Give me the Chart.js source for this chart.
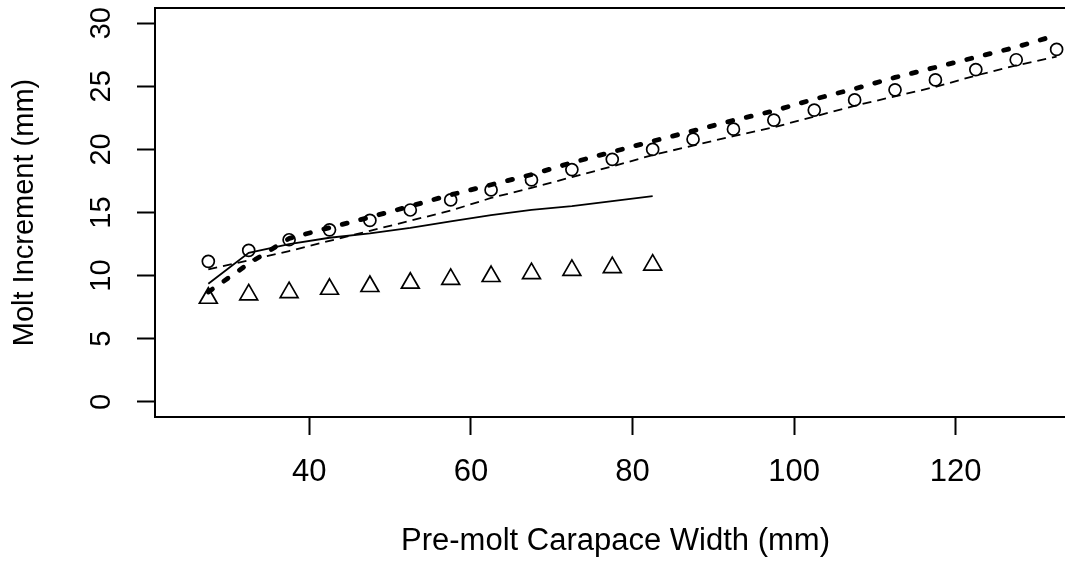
<!DOCTYPE html>
<html><head><meta charset="utf-8">
<script src="https://cdn.jsdelivr.net/npm/chart.js@4.4.1/dist/chart.umd.min.js"></script>
<style>
html,body{margin:0;padding:0;overflow:hidden;background:#fff}
canvas{display:block}
</style>
</head><body><canvas id="c" width="1065" height="562"></canvas>
<script>
// ---- data ----
const widthAll = [27.5,32.5,37.5,42.5,47.5,52.5,57.5,62.5,67.5,72.5,77.5,82.5,87.5,92.5,97.5,102.5,107.5,112.5,117.5,122.5,127.5,132.5];
const widthShort = [27.5,32.5,37.5,42.5,47.5,52.5,57.5,62.5,67.5,72.5,77.5,82.5];
const circlePoints = [11.13,12.0,12.84,13.63,14.37,15.2,16.0,16.79,17.58,18.4,19.21,20.0,20.81,21.6,22.32,23.11,23.92,24.72,25.5,26.32,27.1,27.92];
const trianglePoints = [8.22,8.49,8.67,8.93,9.15,9.41,9.72,9.94,10.17,10.43,10.65,10.85];
const solidCurve = [9.35,11.8,12.5,13.0,13.35,13.78,14.3,14.8,15.2,15.5,15.9,16.3];
const thinDashedCurve = [10.5,11.2,11.95,12.75,13.55,14.35,15.15,16.15,16.95,17.8,18.65,19.55,20.3,21.05,21.75,22.6,23.45,24.2,24.95,25.85,26.65,27.35];
const thickDottedCurve = [8.7,10.95,12.95,13.8,14.63,15.5,16.4,17.2,18.0,18.95,19.8,20.65,21.47,22.3,23.05,23.98,24.8,25.7,26.5,27.3,28.1,29.05];
const xTickValues = [40,60,80,100,120];
const yTickValues = [0,5,10,15,20,25,30];
const xTitleText = 'Pre-molt Carapace Width (mm)';
const yTitleText = 'Molt Increment (mm)';

const pts = (xs, ys) => xs.map((x, i) => ({x: x, y: ys[i]}));
const FAMILY = '"Liberation Sans", Arial, sans-serif';
const FONT_X = {family: FAMILY, size: 31};
const FONT_Y = {family: FAMILY, size: 29};
const X_MIN = 20.9, X_MAX = 134.9, Y_MIN = -1.2, Y_MAX = 31.2;
const PLOT_RIGHT = 1076; // plot box continues past the right edge of the picture

// the R plot region runs a little beyond the canvas; widen the x scales after layout
const widenPlot = {
  id: 'widenPlot',
  afterLayout(chart) {
    const a = chart.chartArea;
    a.right = PLOT_RIGHT; a.width = PLOT_RIGHT - a.left;
    ['x', 'xTop'].forEach(id => {
      const s = chart.scales[id];
      s.right = PLOT_RIGHT; s.width = PLOT_RIGHT - s.left;
      s.configure();
    });
  }
};

new Chart(document.getElementById('c'), {
  type: 'scatter',
  plugins: [widenPlot],
  data: {
    datasets: [
      {data: pts(widthAll, circlePoints), showLine: false, pointStyle: 'circle', pointRadius: 6,
       pointBorderWidth: 1.7, pointBorderColor: '#000', pointBackgroundColor: 'rgba(0,0,0,0)'},
      {data: pts(widthShort, trianglePoints), showLine: false, pointStyle: 'triangle', pointRadius: 10.3,
       pointBorderWidth: 1.7, pointBorderColor: '#000', pointBackgroundColor: 'rgba(0,0,0,0)'},
      {data: pts(widthShort, solidCurve), showLine: true, pointRadius: 0, borderColor: '#000',
       borderWidth: 1.8, tension: 0, fill: false},
      {data: pts(widthAll, thinDashedCurve), showLine: true, pointRadius: 0, borderColor: '#000',
       borderWidth: 1.8, borderDash: [9, 6], tension: 0, fill: false},
      {data: pts(widthAll, thickDottedCurve), showLine: true, pointRadius: 0, borderColor: '#000',
       borderWidth: 4.8, borderDash: [5, 14], borderCapStyle: 'round', tension: 0, fill: false}
    ]
  },
  options: {
    responsive: false,
    animation: false,
    events: [],
    layout: {autoPadding: false, padding: {top: 8, left: 0, right: 0, bottom: 0}},
    plugins: {legend: {display: false}, tooltip: {enabled: false}},
    scales: {
      x: {
        type: 'linear', position: 'bottom', min: X_MIN, max: X_MAX,
        afterBuildTicks: s => { s.ticks = xTickValues.map(v => ({value: v})); },
        afterFit: s => { s.height = 145; s.paddingLeft = 0; s.paddingRight = 0; },
        grid: {display: true, drawOnChartArea: false, drawTicks: true, tickLength: 18, tickWidth: 2, tickColor: '#000'},
        border: {display: true, color: '#000', width: 2},
        ticks: {color: '#000', font: FONT_X, padding: 19, maxRotation: 0, minRotation: 0, autoSkip: false},
        title: {display: true, text: xTitleText, color: '#000', font: FONT_X, padding: {top: 0, bottom: 2}}
      },
      xTop: {
        type: 'linear', position: 'top', min: X_MIN, max: X_MAX,
        afterFit: s => { s.height = 0; s.paddingLeft = 0; s.paddingRight = 0; },
        grid: {display: false, drawTicks: false},
        border: {display: true, color: '#000', width: 2},
        ticks: {display: false}
      },
      y: {
        type: 'linear', position: 'left', min: Y_MIN, max: Y_MAX,
        afterBuildTicks: s => { s.ticks = yTickValues.map(v => ({value: v})); },
        afterFit: s => { s.width = 155; s.paddingTop = 0; s.paddingBottom = 0; },
        grid: {display: true, drawOnChartArea: false, drawTicks: true, tickLength: 18, tickWidth: 2, tickColor: '#000'},
        border: {display: true, color: '#000', width: 2},
        ticks: {color: '#000', font: FONT_Y, padding: 19, minRotation: 90, maxRotation: 90, crossAlign: 'center', autoSkip: false},
        title: {display: true, text: yTitleText, color: '#000', font: FONT_Y, padding: {top: 8, bottom: 0}}
      }
    }
  }
});
</script>
</body></html>
